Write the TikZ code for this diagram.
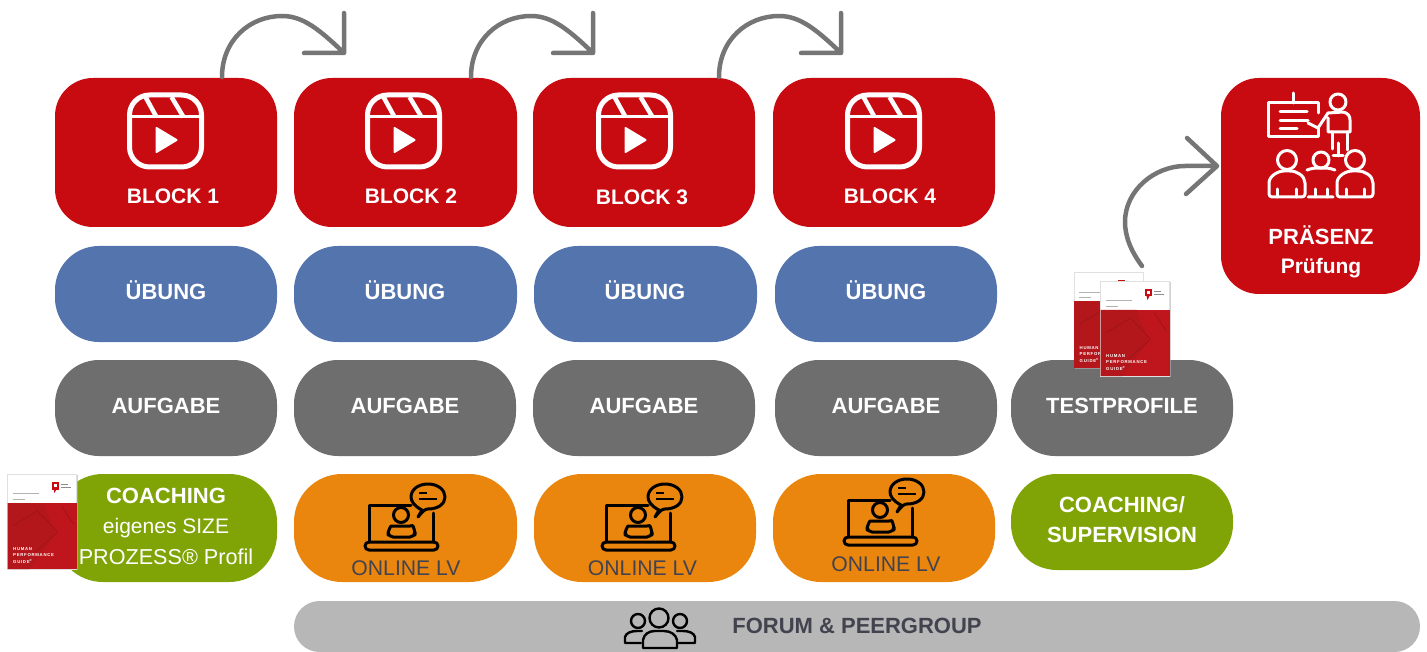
\documentclass[tikz,border=0pt]{standalone}
\usepackage{fontspec}
\setmainfont{Liberation Sans}
\usetikzlibrary{calc}
\definecolor{cred}{HTML}{C80A11}
\definecolor{cblue}{HTML}{5474AE}
\definecolor{cgray}{HTML}{6E6E6E}
\definecolor{cgreen}{HTML}{80A406}
\definecolor{corange}{HTML}{EA860E}
\definecolor{clight}{HTML}{B7B7B7}
\definecolor{carrow}{HTML}{757575}
\definecolor{cink}{HTML}{43434F}
\definecolor{cbook}{HTML}{BE161C}
\definecolor{cbookd}{HTML}{B4171B}
\tikzset{
  rbox/.style={inner sep=0pt,outer sep=0pt,draw=none,rectangle},
  redbox/.style={rbox,fill=cred,rounded corners=38pt},
  bluebox/.style={rbox,fill=cblue,rounded corners=44pt,minimum height=96pt},
  graybox/.style={rbox,fill=cgray,rounded corners=44pt,minimum height=96pt},
  orangebox/.style={rbox,fill=corange,rounded corners=48pt,minimum height=108pt},
  greenbox/.style={rbox,fill=cgreen,rounded corners=46pt},
  lab/.style={inner sep=0pt,text=white,font=\fontsize{22}{22}\selectfont\bfseries},
  labs/.style={inner sep=0pt,text=white,font=\fontsize{21}{21}\selectfont\bfseries},
  labreg/.style={inner sep=0pt,text=white,font=\fontsize{21.6}{21.6}\selectfont},
  lvlab/.style={inner sep=0pt,text=cink,font=\fontsize{21.2}{21.2}\selectfont},
  flow/.style={draw=carrow,line width=4.5pt,line cap=round,line join=round},
  pics/reel/.style={code={
    \draw[white,line width=5pt] (-36,-36) [rounded corners=20pt] rectangle (36,36);
    \draw[white,line width=3pt] (-36,-14) -- (36,-14);
    \draw[white,line width=4.5pt] (-20,-34) -- (-9,-14) (6,-34) -- (18,-14);
    \fill[white,draw=white,line width=2pt,line join=round] (-9,-3) -- (-9,21) -- (11,9) -- cycle;
  }},
  pics/laptop/.style={code={
    \begin{scope}[black,line width=3pt,line cap=round,line join=round]
    \draw (-36,42) -- (-36,5) -- (6,5) (28,13) -- (28,42);
    \draw[rounded corners=4pt] (-40,42) -- (-40,50) -- (33,50) -- (33,42) -- cycle;
    \draw (-4,15) circle (7.5);
    \draw[rounded corners=5pt] (-17,37) -- (-17,30) .. controls (-14,26) and (-10,26) .. (-8,26) -- (0,26) .. controls (4,26) and (8,26) .. (10,30) -- (10,37) -- cycle;
    \draw (13,17) -- (17,10) .. controls (9,6) and (6,1) .. (6,-3) .. controls (6,-11) and (14,-16) .. (23,-16) .. controls (33,-16) and (40,-10) .. (40,-3) .. controls (40,4) and (33,9) .. (23,9) .. controls (20,9) and (18,11) .. (13,17) -- cycle;
    \end{scope}
    \draw[black,line width=2pt] (14,-7) -- (22,-7) (14,-1) -- (32,-1);
  }},
  pics/book/.style={code={
    \fill[black!30,opacity=.6] (1,1) rectangle (70,96);
    \fill[white] (0,0) rectangle (69,95);
    \draw[black!12,line width=.6pt] (0,0) rectangle (69,95);
    \fill[cbook] (0,29) rectangle (69,95);
    \fill[cbookd] (0,29) -- (36,29) -- (48,60) -- (22,95) -- (0,95) -- cycle;
    \draw[cbookd!85!black,line width=.6pt] (5,52) -- (30,37) -- (50,58) -- (28,78) (54,32) -- (66,50);
    \fill[cred] (44,8) rectangle (51,15.5);
    \fill[white] (46,10) rectangle (49,13);
    \fill[cred] (46,15) -- (49,15) -- (47,19) -- cycle;
    \draw[black!45,line width=.7pt] (53,10) -- (60,10) (53,13) -- (63,13);
    \draw[black!30,line width=.8pt] (5,19.5) -- (31,19.5) (5,25) -- (17,25);
    \node[anchor=west,inner sep=0pt,text=white,font=\fontsize{4.3}{4.3}\selectfont\bfseries] at (5.5,75.5) {H\,U\,M\,A\,N};
    \node[anchor=west,inner sep=0pt,text=white,font=\fontsize{4.3}{4.3}\selectfont\bfseries] at (5.5,81.5) {P\,E\,R\,F\,O\,R\,M\,A\,N\,C\,E};
    \node[anchor=west,inner sep=0pt,text=white,font=\fontsize{4.3}{4.3}\selectfont\bfseries] at (5.5,87.5) {G\,U\,I\,D\,E\textsuperscript{®}};
  }}
}
\begin{document}
\begin{tikzpicture}[x=1pt,y=-1pt]
\useasboundingbox (0,0) rectangle (1427,652);
% row 1
\node[redbox,minimum width=222pt,minimum height=149pt] (b1) at (166,152.5) {};
\node[redbox,minimum width=223pt,minimum height=149pt] (b2) at (405.5,152.5) {};
\node[redbox,minimum width=222pt,minimum height=149pt] (b3) at (644,152.5) {};
\node[redbox,minimum width=222pt,minimum height=149pt] (b4) at (884,152.5) {};
\node[redbox,minimum width=199pt,minimum height=216pt] (pr) at (1320.5,186) {};
% row 2
\node[bluebox,minimum width=222pt] (u1) at (166,294) {};
\node[bluebox,minimum width=223pt] (u2) at (405.5,294) {};
\node[bluebox,minimum width=223pt] (u3) at (645.5,294) {};
\node[bluebox,minimum width=222pt] (u4) at (886,294) {};
% row 3
\node[graybox,minimum width=222pt] (a1) at (166,408) {};
\node[graybox,minimum width=222pt] (a2) at (405,408) {};
\node[graybox,minimum width=222pt] (a3) at (644,408) {};
\node[graybox,minimum width=222pt] (a4) at (886,408) {};
\node[graybox,minimum width=222pt] (a5) at (1122,408) {};
% row 4
\node[greenbox,minimum width=222pt,minimum height=108pt,rounded corners=48pt] (c1) at (166,528) {};
\node[orangebox,minimum width=223pt] (o2) at (405.5,528) {};
\node[orangebox,minimum width=222pt] (o3) at (645,528) {};
\node[orangebox,minimum width=222pt] (o4) at (884,528) {};
\node[greenbox,minimum width=222pt,minimum height=96pt] (c5) at (1122,522) {};
% forum
\node[rbox,fill=clight,rounded corners=25.5pt,minimum width=1126pt,minimum height=51pt] (fo) at (857,626.5) {};
% connectors
\coordinate (s1) at ($(b1.north east)+(-55,-1)$);
\coordinate (s2) at ($(b2.north east)+(-46,-1)$);
\coordinate (s3) at ($(b3.north east)+(-36,-1)$);
\coordinate (e1) at ($(b2.north west)+(50,-25)$);
\coordinate (e2) at ($(b3.north west)+(60,-25)$);
\coordinate (e3) at ($(b4.north west)+(68,-25)$);
\coordinate (s4) at (1142,266);
\coordinate (e4) at ($(pr.west)+(-4,-20)$);
\draw[flow] (s1) .. controls ($(s1)+(0,-37)$) and ($(s1)+(28,-61)$) .. ($(s1)+(60,-61)$) .. controls ($(s1)+(80,-61)$) and ($(e1)+(-26,-25)$) .. (e1) ++(0,-40) -- (e1) -- ++(-40,0);
\draw[flow] (s2) .. controls ($(s2)+(0,-37)$) and ($(s2)+(28,-61)$) .. ($(s2)+(60,-61)$) .. controls ($(s2)+(80,-61)$) and ($(e2)+(-26,-25)$) .. (e2) ++(0,-40) -- (e2) -- ++(-40,0);
\draw[flow] (s3) .. controls ($(s3)+(0,-37)$) and ($(s3)+(28,-61)$) .. ($(s3)+(60,-61)$) .. controls ($(s3)+(80,-61)$) and ($(e3)+(-26,-25)$) .. (e3) ++(0,-40) -- (e3) -- ++(-40,0);
\draw[flow] (s4) .. controls (1130,250) and (1125,235) .. (1125,222) .. controls (1125,190) and (1155,166) .. (1185,166) -- (e4) ++(-30,-28) -- (e4) -- ++(-31,28);
% reel icons
\pic at (165.5,131) {reel};
\pic at (403.5,131) {reel};
\pic at (634.5,131) {reel};
\pic at (883.5,131) {reel};
% laptop icons
\pic at (405,500) {laptop};
\pic at (642,500) {laptop};
\pic at (884,495) {laptop};
% presenter icon
\begin{scope}[white,line width=3pt,line cap=round,line join=round]
\draw (1318,113) -- (1318,103) -- (1268,103) -- (1268,137) -- (1318,137) -- (1318,128);
\draw (1293,93) -- (1293,103);
\draw (1280,112) -- (1307,112) (1280,121) -- (1308,121) (1280,129) -- (1297,129);
\draw (1338,102) circle (8);
\draw (1308,123) -- (1318,128) -- (1328,113) -- (1343,112) .. controls (1348,113) and (1350,116) .. (1350,120) -- (1350,132) -- (1328,132) -- (1328,118);
\draw (1332,132) -- (1332,149) (1347,132) -- (1347,150);
\draw (1338,143) -- (1338,156) (1333,156) -- (1343,156);
\draw (1287,160) circle (9.5);
\draw (1355,160) circle (9.5);
\draw (1321,160) circle (8);
\draw[rounded corners=3pt] (1269,197) -- (1269,186) .. controls (1269,176) and (1278,171) .. (1287,171) .. controls (1297,171) and (1305,176) .. (1305,186) -- (1305,197) -- cycle;
\draw[rounded corners=3pt] (1337,197) -- (1337,186) .. controls (1337,176) and (1346,171) .. (1355,171) .. controls (1365,171) and (1373,176) .. (1373,186) -- (1373,197) -- cycle;
\draw (1308,197) -- (1333,197) (1307,170) .. controls (1312,168) and (1316,168) .. (1321,168) .. controls (1326,168) and (1330,168) .. (1335,170);
\draw (1277,189) -- (1277,197) (1296,189) -- (1296,197) (1315,189) -- (1315,197) (1327,189) -- (1327,197) (1346,189) -- (1346,197) (1364,189) -- (1364,197);
\end{scope}
% group icon
\begin{scope}[black,line width=2.4pt,line cap=round,line join=round]
\draw (659,618) circle (9.5);
\draw (638,621) circle (7);
\draw (680,621) circle (7);
\draw (643,648) -- (643,640) .. controls (644,634) and (649,631) .. (655,631) -- (664,631) .. controls (671,631) and (676,635) .. (677,640) -- (677,648) -- cycle;
\draw (641,643) -- (625,643) -- (625,637) .. controls (626,633) and (631,631) .. (637,631) -- (642,631);
\draw (678,643) -- (695,643) -- (695,637) .. controls (694,633) and (689,631) .. (683,631) -- (677,631);
\end{scope}
% books
\pic at (7.5,474) {book};
\pic at (1074,272.5) {book};
\pic at (1100.5,281) {book};
% labels
\node[labs] (tb1) at (173,196) {BLOCK 1};
\node[labs] (tb2) at (411,196) {BLOCK 2};
\node[labs] (tb3) at (642,197) {BLOCK 3};
\node[labs] (tb4) at (890,196) {BLOCK 4};
\node[lab] (tu1) at (166,290) {ÜBUNG};
\node[lab] (tu2) at (405,290) {ÜBUNG};
\node[lab] (tu3) at (645,290) {ÜBUNG};
\node[lab] (tu4) at (886,290) {ÜBUNG};
\node[lab] (ta1) at (166,406) {AUFGABE};
\node[lab] (ta2) at (405,406) {AUFGABE};
\node[lab] (ta3) at (644,406) {AUFGABE};
\node[lab] (ta4) at (886,406) {AUFGABE};
\node[lab] (ta5) at (1122,406) {TESTPROFILE};
\node[lab] (tc1) at (166,496) {COACHING};
\node[labreg,font=\fontsize{21}{21}\selectfont] (tc1b) at (166,528) {eigenes SIZE};
\node[labreg] (tc1c) at (166,557) {PROZESS® Profil};
\node[lvlab] (to2) at (406,568) {ONLINE LV};
\node[lvlab] (to3) at (642.5,568) {ONLINE LV};
\node[lvlab] (to4) at (886,564) {ONLINE LV};
\node[lab] (tc5a) at (1122,505) {COACHING/};
\node[lab] (tc5b) at (1122,535) {SUPERVISION};
\node[lab] (tp1) at (1321,235) {PRÄSENZ};
\node[labs] (tp2) at (1321,268) {Prüfung};
\node[lab,text=cink] (tf) at (857,626) {FORUM \& PEERGROUP};
\end{tikzpicture}
\end{document}
